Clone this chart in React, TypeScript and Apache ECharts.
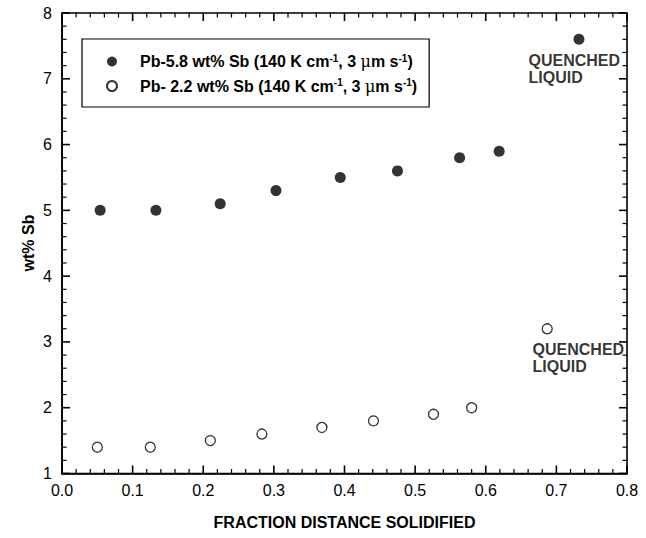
import React, { useEffect, useRef } from "react";
import * as echarts from "echarts";

const fracA = [0.054, 0.133, 0.224, 0.303, 0.394, 0.475, 0.563, 0.619, 0.732];
const sbA = [5.0, 5.0, 5.1, 5.3, 5.5, 5.6, 5.8, 5.9, 7.6];
const fracB = [0.05, 0.125, 0.21, 0.283, 0.368, 0.441, 0.526, 0.58, 0.687];
const sbB = [1.4, 1.4, 1.5, 1.6, 1.7, 1.8, 1.9, 2.0, 3.2];
const nameA = "Pb-5.8 wt% Sb";
const nameB = "Pb- 2.2 wt% Sb";
const xTitle = "FRACTION DISTANCE SOLIDIFIED";
const yTitle = "wt% Sb";
const quenchText = "QUENCHED\nLIQUID";

const X_MIN = 0;
const X_MAX = 0.8;
const X_STEP = 0.1;
const Y_MIN = 1;
const Y_MAX = 8;
const Y_STEP = 1;
const MINOR_SPLIT = 5;

const FONT = "'Liberation Sans', Arial, sans-serif";

function tickList(min: number, max: number, step: number, split: number) {
  const out: { v: number; major: boolean }[] = [];
  const n = Math.round((max - min) / step) * split;
  for (let i = 0; i <= n; i++) {
    out.push({ v: min + (i * step) / split, major: i % split === 0 });
  }
  return out;
}

export default function App() {
  const ref = useRef<HTMLDivElement>(null);
  useEffect(() => {
    document.body.style.margin = "0";
    const chart = echarts.init(ref.current!, null, { renderer: "svg" });
    const quenchLabel = (pos: number[]) => ({
      show: true,
      formatter: quenchText,
      position: pos,
      align: "left",
      verticalAlign: "top",
      fontFamily: FONT,
      fontWeight: "bold",
      fontSize: 16,
      lineHeight: 17,
      color: "#000",
    });
    const dataA = fracA.map((x, i) =>
      i === fracA.length - 1
        ? { value: [x, sbA[i]], label: quenchLabel([-45, 18]) }
        : { value: [x, sbA[i]] }
    );
    const dataB = fracB.map((x, i) =>
      i === fracB.length - 1
        ? { value: [x, sbB[i]], label: quenchLabel([-9, 18]) }
        : { value: [x, sbB[i]] }
    );
    // tick data: [value, axis (0 = x, 1 = y), major flag]
    const tickData: number[][] = [];
    tickList(X_MIN, X_MAX, X_STEP, MINOR_SPLIT).forEach((t) => tickData.push([t.v, 0, t.major ? 1 : 0]));
    tickList(Y_MIN, Y_MAX, Y_STEP, MINOR_SPLIT).forEach((t) => tickData.push([t.v, 1, t.major ? 1 : 0]));

    const renderTick = (params: any, api: any) => {
      const v = api.value(0);
      const axis = api.value(1);
      const major = api.value(2) === 1;
      const len = major ? 8 : 4.5;
      const lw = major ? 1.6 : 1.2;
      const style = { stroke: "#000", lineWidth: lw };
      if (axis === 0) {
        const b = api.coord([v, Y_MIN]);
        const t = api.coord([v, Y_MAX]);
        return {
          type: "group",
          children: [
            { type: "line", shape: { x1: b[0], y1: b[1], x2: b[0], y2: b[1] - len }, style },
            { type: "line", shape: { x1: t[0], y1: t[1], x2: t[0], y2: t[1] + len }, style },
          ],
        };
      }
      const l = api.coord([X_MIN, v]);
      const r = api.coord([X_MAX, v]);
      return {
        type: "group",
        children: [
          { type: "line", shape: { x1: l[0], y1: l[1], x2: l[0] + len, y2: l[1] }, style },
          { type: "line", shape: { x1: r[0], y1: r[1], x2: r[0] - len, y2: r[1] }, style },
        ],
      };
    };

    chart.setOption({
      animation: false,
      grid: {
        left: 62,
        right: 19,
        top: 13,
        bottom: 64.5,
        show: true,
        borderColor: "#000",
        borderWidth: 1.6,
        backgroundColor: "transparent",
      },
      graphic: [
        {
          type: "text",
          x: 344.5,
          y: 522,
          style: {
            text: xTitle,
            fontFamily: FONT,
            fontWeight: "bold",
            fontSize: 16,
            fill: "#000",
            align: "center",
            verticalAlign: "middle",
          },
        },
        {
          type: "text",
          x: 28,
          y: 243,
          rotation: Math.PI / 2,
          style: {
            text: yTitle,
            fontFamily: FONT,
            fontWeight: "bold",
            fontSize: 16,
            fill: "#000",
            align: "center",
            verticalAlign: "middle",
          },
        },
      ],
      legend: {
        left: 82,
        top: 39,
        orient: "vertical",
        borderColor: "#000",
        borderWidth: 1.2,
        borderRadius: 0,
        padding: [14, 12, 13, 24],
        itemGap: 8,
        itemWidth: 10,
        itemHeight: 10,
        icon: "circle",
        data: [nameA, nameB],
        formatter: (n: string) =>
          "{pad|}{a|" + n + " (140 K cm}{sup|-1}{a|, 3 }{mu|μ}{a|m s}{sup|-1}{a|)}",
        textStyle: {
          fontFamily: FONT,
          fontWeight: "bold",
          fontSize: 16,
          color: "#000",
          rich: {
            pad: { width: 18, height: 10 },
            a: { fontSize: 16, fontWeight: "bold", fontFamily: FONT, color: "#000" },
            mu: { fontSize: 16, fontWeight: "normal", fontFamily: "'DejaVu Serif', serif", color: "#000" },
            sup: { fontSize: 10, fontWeight: "bold", padding: [0, 0, 7, 0], color: "#000" },
          },
        },
      },
      xAxis: {
        type: "value",
        min: X_MIN,
        max: X_MAX,
        interval: X_STEP,
        axisLine: { show: true, onZero: false, lineStyle: { color: "#000", width: 1.6 } },
        axisTick: { show: false },
        minorTick: { show: false },
        splitLine: { show: false },
        axisLabel: {
          color: "#000",
          fontSize: 16,
          fontFamily: FONT,
          margin: 9,
          formatter: (v: number) => v.toFixed(1),
        },
      },
      yAxis: {
        type: "value",
        min: Y_MIN,
        max: Y_MAX,
        interval: Y_STEP,
        axisLine: { show: true, onZero: false, lineStyle: { color: "#000", width: 1.6 } },
        axisTick: { show: false },
        minorTick: { show: false },
        splitLine: { show: false },
        axisLabel: { color: "#000", fontSize: 16, fontFamily: FONT, margin: 10 },
      },
      series: [
        {
          name: "ticks",
          type: "custom",
          silent: true,
          clip: false,
          z: 5,
          renderItem: renderTick,
          data: tickData,
        },
        {
          name: nameA,
          type: "scatter",
          symbol: "circle",
          symbolSize: 11,
          itemStyle: { color: "#000" },
          data: dataA,
        },
        {
          name: nameB,
          type: "scatter",
          symbol: "circle",
          symbolSize: 10,
          itemStyle: { color: "#fff", borderColor: "#000", borderWidth: 1.3 },
          data: dataB,
        },
      ],
    });
    return () => chart.dispose();
  }, []);
  return (
    <div
      ref={ref}
      style={{ position: "fixed", left: 0, top: 0, width: 646, height: 538, background: "#fff" }}
    />
  );
}
